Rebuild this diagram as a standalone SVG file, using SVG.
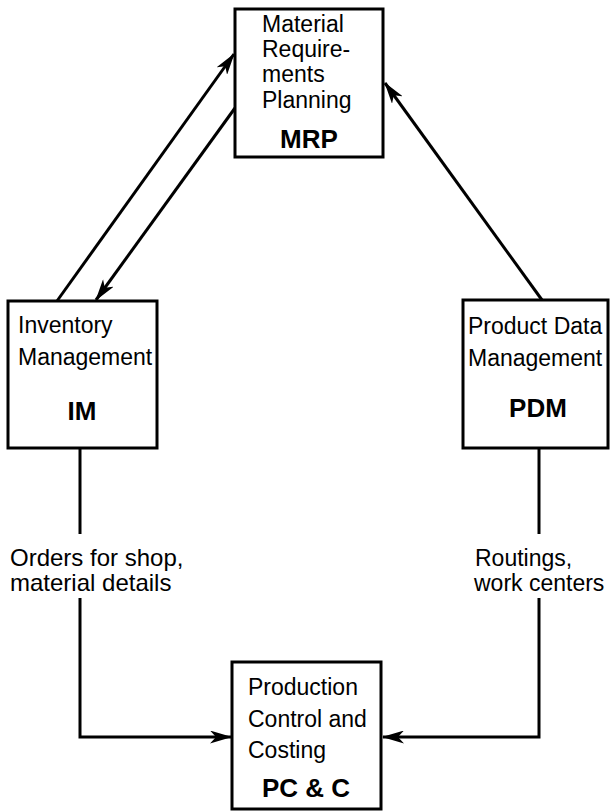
<svg xmlns="http://www.w3.org/2000/svg" width="610" height="811" viewBox="0 0 610 811">
<style>
.box{fill:#fff;stroke:#000;stroke-width:3}
.t{font-family:"Liberation Sans",Arial,sans-serif;font-size:23px;fill:#000}
.l{font-family:"Liberation Sans",Arial,sans-serif;font-size:24px;fill:#000}
.b{font-family:"Liberation Sans",Arial,sans-serif;font-size:26px;font-weight:bold;fill:#000;text-anchor:middle}
.c{fill:none;stroke:#000;stroke-width:3}
</style>
<defs>
<marker id="ah" viewBox="0 0 22 13" refX="21" refY="6.5" markerWidth="22" markerHeight="13" markerUnits="userSpaceOnUse" orient="auto">
<path d="M0,0 L22,6.5 L0,13 L6,6.5 Z" fill="#000"/>
</marker>
</defs>
<g id="connectors">
<line class="c" x1="57" y1="301" x2="234" y2="54" marker-end="url(#ah)"/>
<line class="c" x1="235" y1="108" x2="96" y2="300" marker-end="url(#ah)"/>
<line class="c" x1="542" y1="300" x2="385" y2="83" marker-end="url(#ah)"/>
<polyline class="c" points="80,448 80,534"/>
<polyline class="c" points="80,598 80,737 231,737" marker-end="url(#ah)"/>
<polyline class="c" points="539,448 539,534"/>
<polyline class="c" points="539,598 539,737 383,737" marker-end="url(#ah)"/>
<text class="l" x="10" y="566">Orders for shop,</text>
<text class="l" x="10" y="591">material details</text>
<text class="t" x="475" y="566">Routings,</text>
<text class="t" x="474" y="591">work centers</text>
</g>
<g id="MRP">
<rect class="box" x="235" y="9" width="148" height="148"/>
<text class="t" x="262" y="32">Material</text>
<text class="t" x="262" y="57">Require-</text>
<text class="t" x="262" y="82">ments</text>
<text class="t" x="262" y="108">Planning</text>
<text class="b" x="309" y="148">MRP</text>
</g>
<g id="IM">
<rect class="box" x="8" y="301" width="149" height="147"/>
<text class="t" x="18" y="333">Inventory</text>
<text class="t" x="18" y="365">Management</text>
<text class="b" x="82" y="420">IM</text>
</g>
<g id="PDM">
<rect class="box" x="463" y="300" width="145" height="148"/>
<text class="t" x="468" y="334">Product Data</text>
<text class="t" x="468" y="366">Management</text>
<text class="b" x="538" y="417">PDM</text>
</g>
<g id="PCC">
<rect class="box" x="232" y="662" width="149" height="147"/>
<text class="t" x="248" y="695">Production</text>
<text class="t" x="248" y="727">Control and</text>
<text class="t" x="248" y="758">Costing</text>
<text class="b" x="306" y="797">PC &amp; C</text>
</g>
</svg>
